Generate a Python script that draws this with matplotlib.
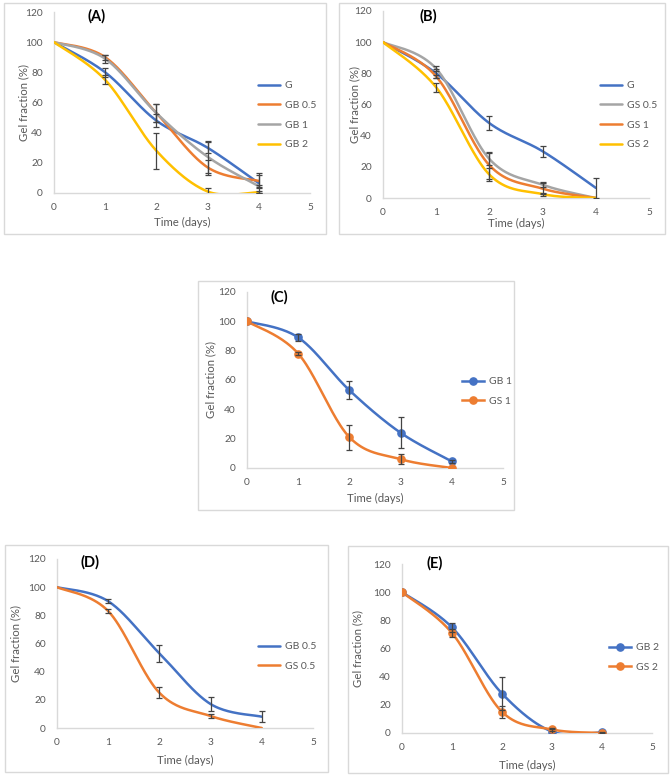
import numpy as np
import matplotlib
matplotlib.use("Agg")
import matplotlib.pyplot as plt
from matplotlib.patches import Rectangle

plt.rcParams['font.family'] = ['Lato', 'DejaVu Sans']

# ---- data ----
days = [0, 1, 2, 3, 4]

G = [100, 80, 48, 30, 6.5]
G_err = [0, 3, 4.5, 3.5, 6.5]

GB05 = [100, 90, 53, 17, 8]
GB05_err = [0, 1.5, 6, 5, 4]
GB1 = [100, 89, 53, 24, 4.5]
GB1_err = [0, 2.5, 6, 10.5, 1]
GB2 = [100, 75, 28, 1, 0.5]
GB2_err = [0, 3, 12, 2, 0.5]

GS05 = [100, 83, 25, 8.5, 0]
GS05_err = [0, 1.5, 4, 1.5, 0]
GS1 = [100, 78, 21, 6, 0]
GS1_err = [0, 1, 8.5, 3.5, 0]
GS2 = [100, 71, 15, 2.5, 0]
GS2_err = [0, 3, 4, 1, 0]

xticks = [0, 1, 2, 3, 4, 5]
yticks = [0, 20, 40, 60, 80, 100, 120]

BLUE, ORANGE, GRAY, YELLOW = '#4472C4', '#ED7D31', '#A5A5A5', '#FFC000'
TXT = '#595959'
W, H = 670, 778


def smooth(x, y, n=40):
    # excel-like smoothed line (catmull-rom through the points)
    p = np.column_stack([x, y]).astype(float)
    out = []
    t = np.linspace(0, 1, n)[:, None]
    for i in range(len(p) - 1):
        p0 = p[max(i - 1, 0)]
        p1 = p[i]
        p2 = p[i + 1]
        p3 = p[min(i + 2, len(p) - 1)]
        c1 = p1 + (p2 - p0) / 6
        c2 = p2 - (p3 - p1) / 6
        seg = (1 - t)**3 * p1 + 3 * (1 - t)**2 * t * c1 + 3 * (1 - t) * t**2 * c2 + t**3 * p2
        out.append(seg)
    out = np.vstack(out)
    return out[:, 0], out[:, 1]


# panels: axes px (x of 0, x of 5, y of 120, y of 0), frame px, title px, legend px, series
panels = [
    dict(ax=(54, 310, 12, 193), frame=(4, 3, 326, 234), title='(A)', tpos=(97, 16),
         ylab_x=24, xlab_y=222, leg=(258, 88), markers=False,
         series=[('G', G, G_err, BLUE), ('GB 0.5', GB05, GB05_err, ORANGE),
                 ('GB 1', GB1, GB1_err, GRAY), ('GB 2', GB2, GB2_err, YELLOW)]),
    dict(ax=(383, 649, 11, 198), frame=(339, 3, 665, 234), title='(B)', tpos=(428, 16),
         ylab_x=355, xlab_y=223, leg=(600, 88), markers=False,
         series=[('G', G, G_err, BLUE), ('GS 0.5', GS05, GS05_err, GRAY),
                 ('GS 1', GS1, GS1_err, ORANGE), ('GS 2', GS2, GS2_err, YELLOW)]),
    dict(ax=(247, 503, 292, 468), frame=(198, 281, 514, 510), title='(C)', tpos=(279, 297),
         ylab_x=211, xlab_y=498, leg=(462, 384), markers=True,
         series=[('GB 1', GB1, GB1_err, BLUE), ('GS 1', GS1, GS1_err, ORANGE)]),
    dict(ax=(57, 313, 559, 728), frame=(5, 545, 328, 772), title='(D)', tpos=(90, 562),
         ylab_x=16, xlab_y=760, leg=(258, 649), markers=False,
         series=[('GB 0.5', GB05, GB05_err, BLUE), ('GS 0.5', GS05, GS05_err, ORANGE)]),
    dict(ax=(402, 652, 564, 733), frame=(348, 546, 668, 773), title='(E)', tpos=(435, 563),
         ylab_x=358, xlab_y=765, leg=(609, 650), markers=True,
         series=[('GB 2', GB2, GB2_err, BLUE), ('GS 2', GS2, GS2_err, ORANGE)]),
]

fig = plt.figure(figsize=(W / 100, H / 100), dpi=100)

for p in panels:
    fx0, fy0, fx1, fy1 = p['frame']
    fig.add_artist(Rectangle((fx0 / W, 1 - fy1 / H), (fx1 - fx0) / W, (fy1 - fy0) / H,
                             transform=fig.transFigure, fill=False, edgecolor='#D9D9D9', lw=1.0))

    x0, x1, yt, yb = p['ax']
    ax = fig.add_axes([x0 / W, 1 - yb / H, (x1 - x0) / W, (yb - yt) / H])
    ax.patch.set_alpha(0)

    for name, vals, err, col in p['series']:
        sx, sy = smooth(days, vals)
        if p['markers']:
            ax.plot(sx, sy, color=col, lw=1.8, solid_capstyle='round', zorder=3)
            ax.plot(days, vals, 'o', color=col, ms=5.2, zorder=4)
            ax.plot([], [], '-o', color=col, lw=1.8, ms=5.2, label=name)
        else:
            ax.plot(sx, sy, color=col, lw=1.8, solid_capstyle='round', zorder=3, label=name)
        e = np.array(err, dtype=float)
        m = e > 0
        ax.errorbar(np.array(days)[m], np.array(vals, dtype=float)[m], yerr=e[m], fmt='none',
                    ecolor='#444444', elinewidth=0.9, capsize=2.3, capthick=0.9, zorder=5)

    ax.set_xlim(0, 5)
    ax.set_ylim(0, 120)
    ax.set_xticks(xticks)
    ax.set_yticks(yticks)
    for s in ['top', 'right']:
        ax.spines[s].set_visible(False)
    for s in ['left', 'bottom']:
        ax.spines[s].set_color('#D9D9D9')
        ax.spines[s].set_linewidth(1.0)
    ax.tick_params(length=0, labelsize=7.3, labelcolor=TXT)
    ax.tick_params(axis='y', pad=8)
    ax.tick_params(axis='x', pad=7)

    fig.text(p['ylab_x'] / W, 1 - (yt + yb) / 2 / H, 'Gel fraction (%)', rotation=90,
             ha='center', va='center', fontsize=8.2, color=TXT)
    fig.text((x0 + x1) / 2 / W, 1 - p['xlab_y'] / H, 'Time (days)',
             ha='center', va='center', fontsize=8.2, color=TXT)
    fig.text(p['tpos'][0] / W, 1 - p['tpos'][1] / H, p['title'], ha='center', va='center',
             fontsize=10.5, fontweight='bold', color='black')

    lx, ly = p['leg']
    ax.legend(loc='upper left', bbox_to_anchor=(lx / W, 1 - (ly - 7) / H),
              bbox_transform=fig.transFigure, frameon=False, fontsize=7.5,
              labelcolor=TXT, handlelength=2.1, handletextpad=0.45,
              labelspacing=1.0, borderpad=0, borderaxespad=0)

fig.savefig('out.png', dpi=100)
